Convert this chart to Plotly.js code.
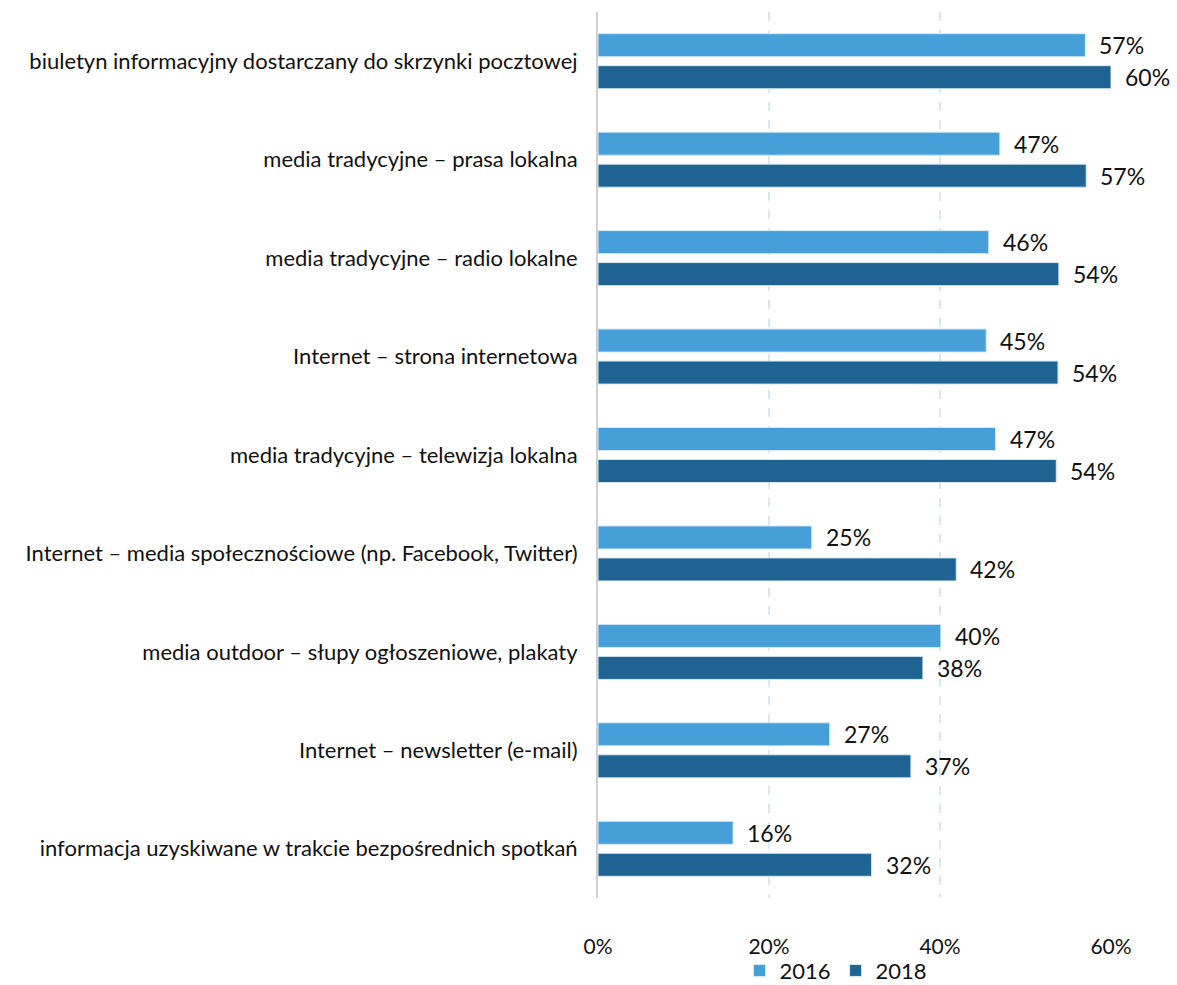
<!DOCTYPE html>
<html><head><meta charset="utf-8">
<script src="https://cdn.plot.ly/plotly-3.0.1.min.js"></script>
<style>html,body{margin:0;padding:0;background:#fff}#chart{width:1177px;height:985px}</style>
</head><body><div id="chart"></div>
<script>
const categories = [
  "biuletyn informacyjny dostarczany do skrzynki pocztowej",
  "media tradycyjne – prasa lokalna",
  "media tradycyjne – radio lokalne",
  "Internet – strona internetowa",
  "media tradycyjne – telewizja lokalna",
  "Internet – media społecznościowe (np. Facebook, Twitter)",
  "media outdoor – słupy ogłoszeniowe, plakaty",
  "Internet – newsletter (e-mail)",
  "informacja uzyskiwane w trakcie bezpośrednich spotkań"
];
const values2016 = [0.57, 0.47, 0.457, 0.454, 0.465, 0.25, 0.401, 0.271, 0.158];
const values2018 = [0.60, 0.571, 0.539, 0.538, 0.536, 0.419, 0.38, 0.366, 0.32];
const seriesNames = ["2016", "2018"];
const tickValues = [0, 0.2, 0.4, 0.6];

const FONT = "Lato, 'Open Sans', sans-serif";
const mk = (vals, name, color) => ({
  type: 'bar', orientation: 'h', x: vals, y: categories, name: name,
  marker: {color: color, line: {color: '#d6e8f5', width: 1}},
  hoverinfo: 'skip'
});
const data = [
  mk(values2016, seriesNames[0], '#479fd9'),
  mk(values2018, seriesNames[1], '#1f6393')
];
const annotations = [];
[[values2016, -16], [values2018, 16]].forEach(([vals, dy]) => {
  vals.forEach((v, i) => annotations.push({
    x: v, y: categories[i], xref: 'x', yref: 'y', text: Math.round(v * 100) + '%',
    showarrow: false, xanchor: 'left', yanchor: 'middle', xshift: 12, yshift: -dy,
    font: {family: FONT, size: 23, color: '#111'}
  }));
});
const layout = {
  width: 1177, height: 985,
  margin: {l: 598, r: 66, t: 12, b: 87, autoexpand: false},
  barmode: 'group', bargap: 0.35, bargroupgap: 0.28,
  paper_bgcolor: '#fff', plot_bgcolor: '#fff',
  font: {family: FONT, size: 22, color: '#111'},
  xaxis: {range: [0, 0.6], tickvals: tickValues, tickformat: '.0%',
    showgrid: true, gridcolor: '#d8e8f4', griddash: 'dash', gridwidth: 1.5,
    zeroline: false, ticks: '', ticklabelstandoff: 34, automargin: false,
    tickfont: {family: FONT, size: 21, color: '#111'}},
  yaxis: {autorange: 'reversed', ticks: '', ticklabelstandoff: 14, automargin: false,
    showline: true, linecolor: '#d0d0d0', linewidth: 2,
    tickfont: {family: FONT, size: 22, color: '#111'}},
  legend: {orientation: 'h', x: 0.464, xanchor: 'center', y: -0.082, yanchor: 'middle',
    font: {family: FONT, size: 22, color: '#111'}, itemwidth: 30,
    tracegroupgap: 0, bgcolor: 'rgba(0,0,0,0)'},
  annotations: annotations,
  showlegend: true
};
Plotly.newPlot('chart', data, layout, {displayModeBar: false, staticPlot: true});
</script></body></html>
